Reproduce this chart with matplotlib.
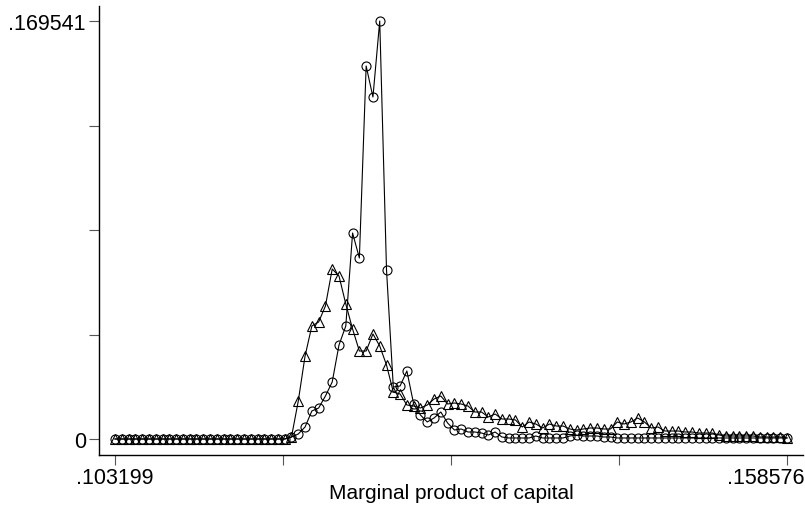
import numpy as np
import matplotlib
matplotlib.use("Agg")
import matplotlib.pyplot as plt
import matplotlib.transforms as mtransforms

plt.rcParams['font.family'] = ['Liberation Sans', 'DejaVu Sans']

# grille d'évaluation des densités (100 points)
x_min = .103199
x_max = .158576
y_max = .169541
x = np.linspace(x_min, x_max, 100)

# densité estimée, série "cercles"
dens_cercles = [0.0] * 26 + [
    0.00081, 0.00203, 0.00487, 0.01136, 0.01257, 0.01744, 0.02312, 0.03813,
    0.04583, 0.08355, 0.07341, 0.15129, 0.13871, 0.169541, 0.06855, 0.02109,
    0.02150, 0.02758, 0.01420, 0.00973, 0.00690, 0.00852, 0.01095, 0.00649,
    0.00365, 0.00406, 0.00284, 0.00284, 0.00243, 0.00162, 0.00284, 0.00081,
    0.00041, 0.00041, 0.00041, 0.00041, 0.00122, 0.00041, 0.00041, 0.00041,
    0.00041, 0.00122, 0.00162, 0.00122, 0.00122, 0.00122, 0.00081, 0.00081,
] + [0.00041] * 26

# densité estimée, série "triangles"
dens_triangles = [0.0] * 26 + [
    0.00081, 0.01541, 0.03366, 0.04583, 0.04746, 0.05394, 0.06895, 0.06611,
    0.05476, 0.04462, 0.03569, 0.03569, 0.04259, 0.03772, 0.03001, 0.01906,
    0.01825, 0.01379, 0.01338, 0.01257, 0.01379, 0.01622, 0.01744, 0.01420,
    0.01460, 0.01420, 0.01338, 0.01095, 0.01095, 0.00892, 0.01014, 0.00811,
    0.00811, 0.00771, 0.00487, 0.00690, 0.00608, 0.00446, 0.00608, 0.00527,
    0.00527, 0.00406, 0.00365, 0.00406, 0.00446, 0.00446, 0.00406, 0.00406,
    0.00690, 0.00608, 0.00690, 0.00852, 0.00690, 0.00446, 0.00487, 0.00324,
    0.00324, 0.00324, 0.00284, 0.00284, 0.00243, 0.00243, 0.00243, 0.00162,
    0.00122, 0.00122, 0.00122, 0.00122, 0.00122,
    0.00081, 0.00081, 0.00081, 0.00081, 0.00041,
]

fig = plt.figure(figsize=(8.05, 5.06), dpi=100)
ax = fig.add_axes([99 / 805, 50 / 506, 704 / 805, 449 / 506])

ax.plot(x, dens_triangles, color='black', linewidth=0.8, marker='^',
        markersize=6.5, markerfacecolor='none', markeredgecolor='black',
        markeredgewidth=0.8)
ax.plot(x, dens_cercles, color='black', linewidth=0.8, marker='o',
        markersize=6.5, markerfacecolor='none', markeredgecolor='black',
        markeredgewidth=0.8)

# marges autour des données
dx = (x_max - x_min) * 16 / 672
dy = y_max * 16 / 418
ax.set_xlim(x_min - dx, x_max + dx)
ax.set_ylim(-dy, y_max + 15 / 418 * y_max)

# graduations : étiquettes seulement aux extrémités
xt = np.linspace(x_min, x_max, 5)
yt = np.linspace(0, y_max, 5)
ax.set_xticks(xt)
ax.set_xticklabels(['.103199', '', '', '', '.158576'])
ax.set_yticks(yt)
ax.set_yticklabels(['0', '', '', '', '.169541'])
ax.tick_params(axis='both', direction='out', length=7.5, width=0.8,
               labelsize=15.5, color='#555555')
ax.tick_params(axis='y', pad=2)
ax.tick_params(axis='x', pad=1)

# la dernière étiquette x est calée à droite pour rester dans la figure
lab = ax.get_xticklabels()[-1]
lab.set_horizontalalignment('right')
lab.set_transform(lab.get_transform() +
                  mtransforms.ScaledTranslation(17 / 100, 0, fig.dpi_scale_trans))

for s in ['top', 'right']:
    ax.spines[s].set_visible(False)
for s in ['left', 'bottom']:
    ax.spines[s].set_linewidth(1.0)

ax.set_xlabel('Marginal product of capital', fontsize=15)
ax.xaxis.set_label_coords(0.5, -0.062)

fig.savefig('out.png', dpi=100)
